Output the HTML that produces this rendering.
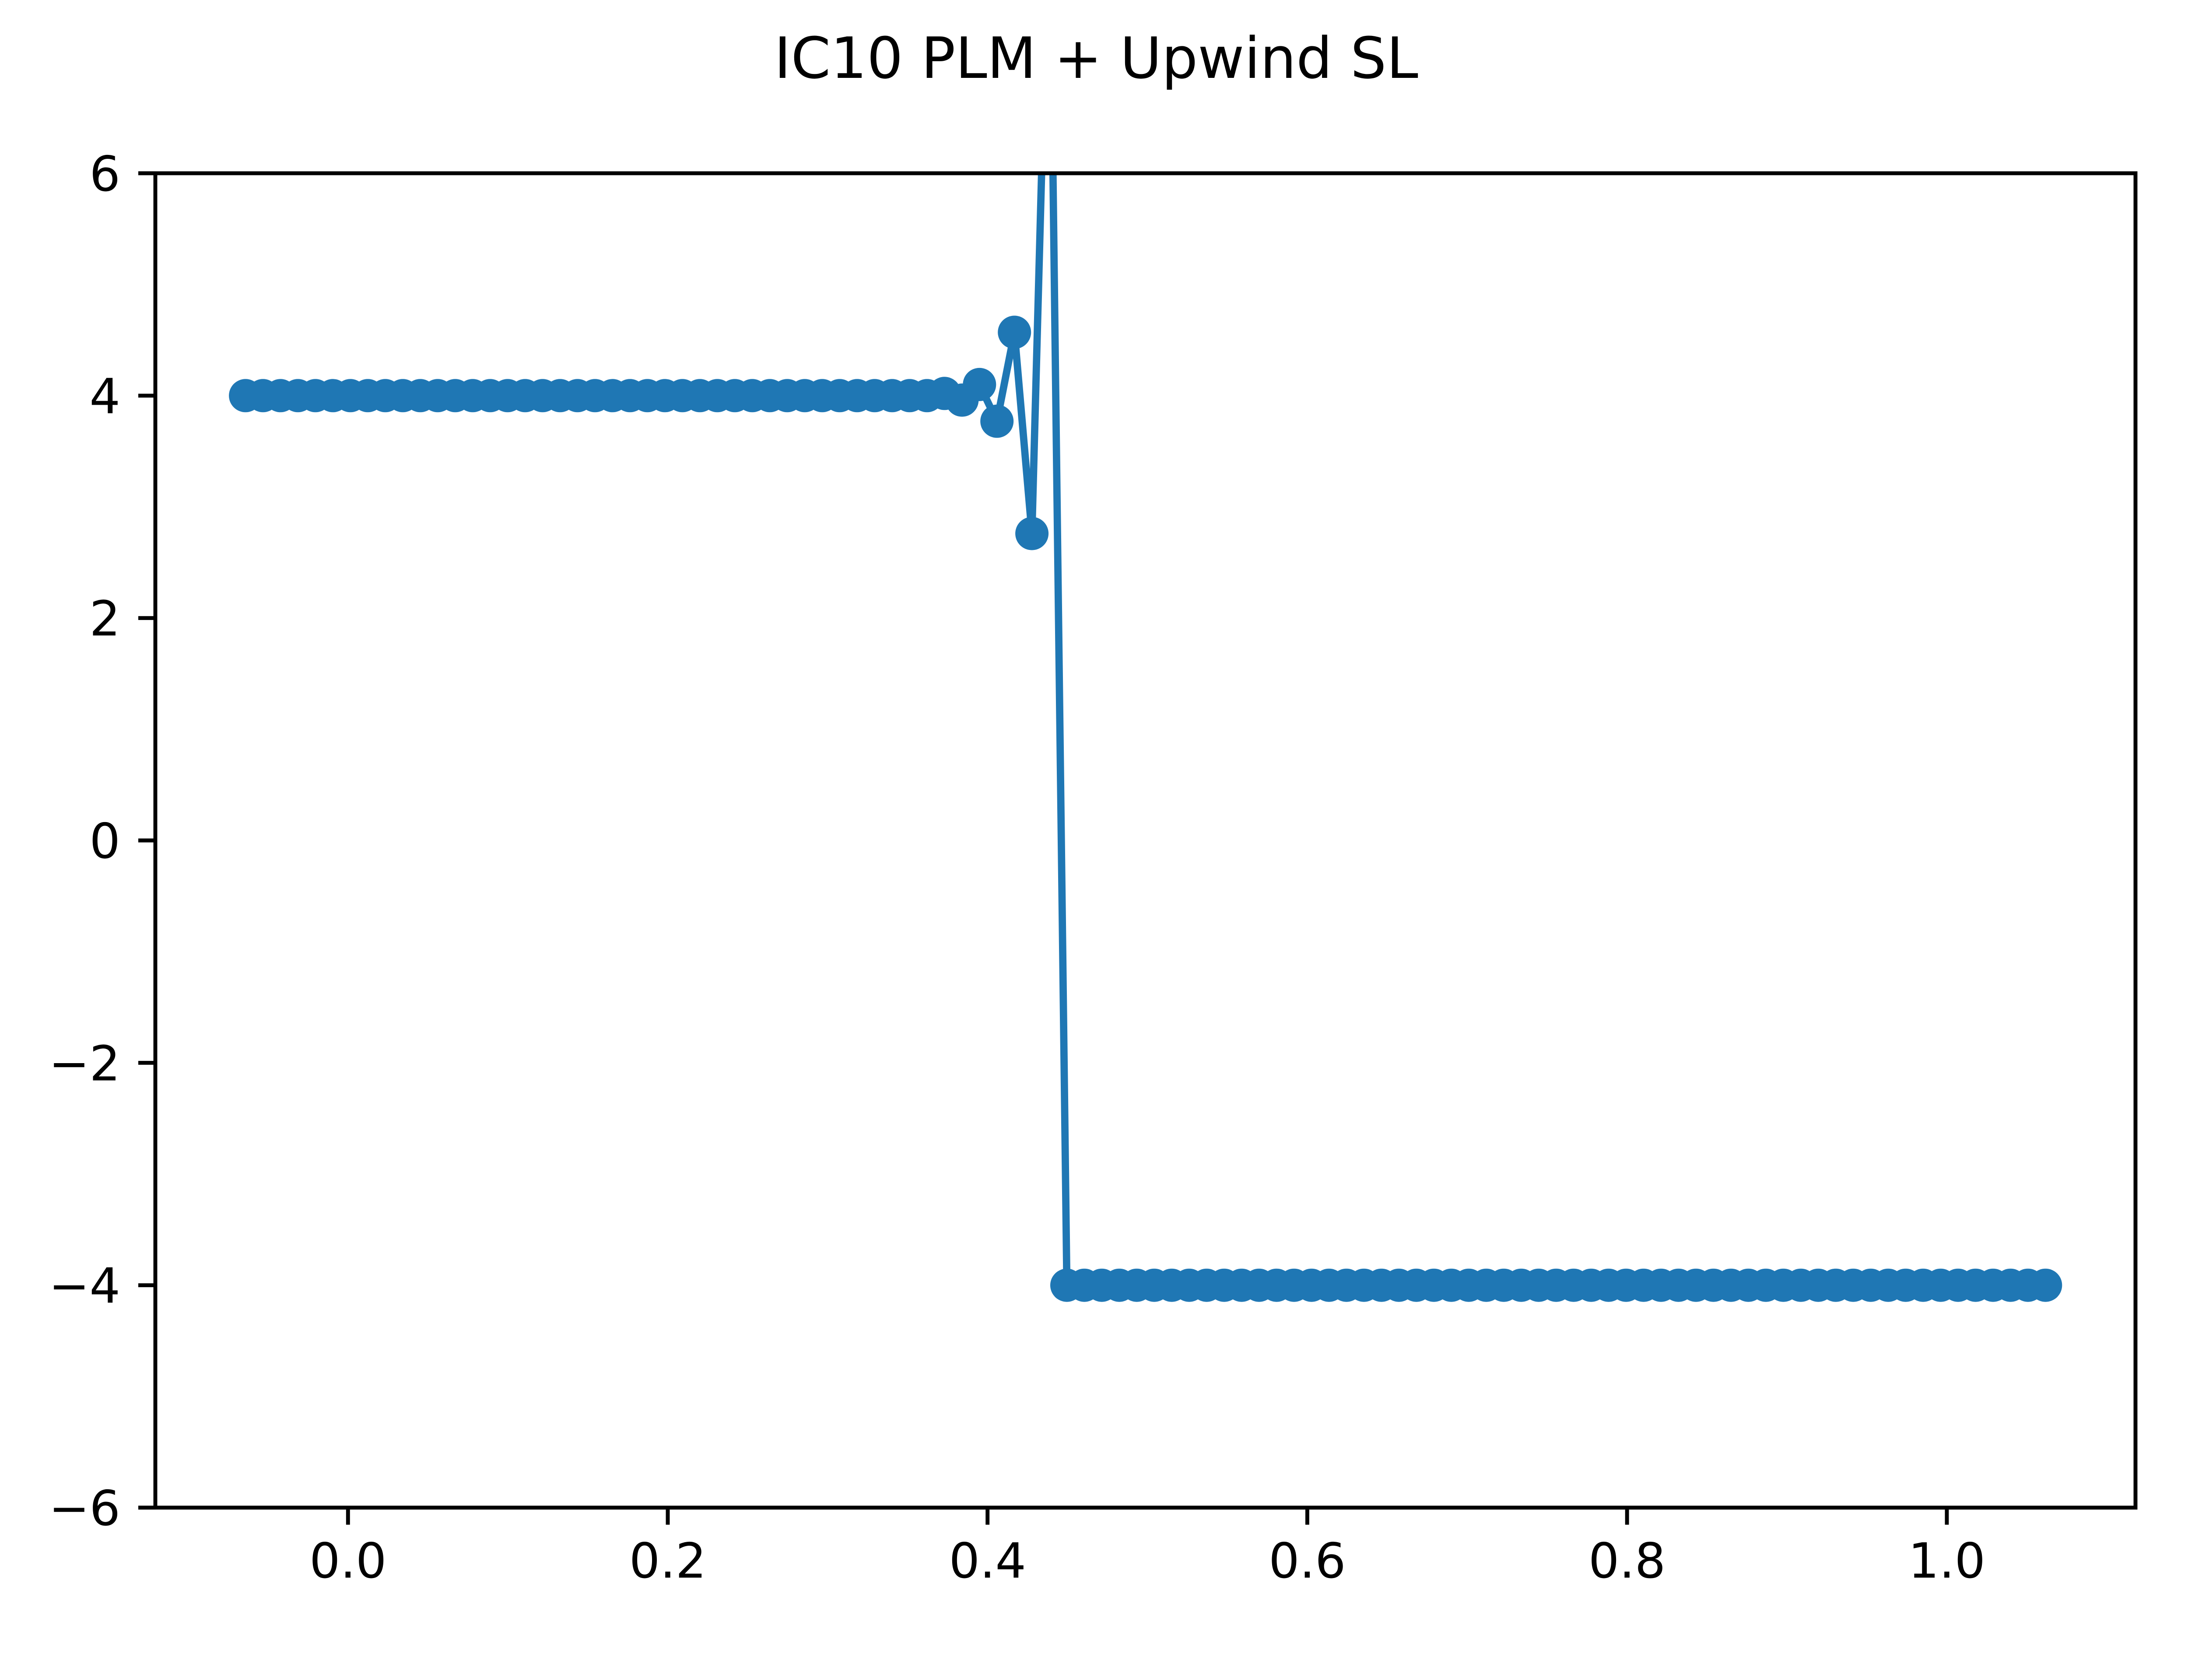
<!DOCTYPE html>
<html><head><meta charset="utf-8"><style>
html,body{margin:0;padding:0;background:#fff;}
svg{display:block;}
text{font-family:"DejaVu Sans","Liberation Sans",sans-serif;fill:#000;}
</style></head><body>
<svg id="chart" width="5120" height="3840" viewBox="0 0 5120 3840" xmlns="http://www.w3.org/2000/svg">
<rect x="0" y="0" width="5120" height="3840" fill="#fff"/>
<text x="2505" y="178" font-size="130" text-anchor="middle">IC10 PLM + Upwind SL</text>
<defs><clipPath id="plotclip"><rect x="355" y="396" width="4525" height="3050"/></clipPath></defs>
<g id="series" clip-path="url(#plotclip)"></g>
<g id="axes"></g>
</svg>
<script>
const xStart = -0.0641;
const xStep = 0.01093;
const yValues = [
4,4,4,4,4,4,4,4,4,4,
4,4,4,4,4,4,4,4,4,4,
4,4,4,4,4,4,4,4,4,4,
4,4,4,4,4,4,4,4,4,4,
4.02,3.96,4.10,3.77,4.57,2.76,8.6,
-4,-4,-4,-4,-4,-4,-4,-4,-4,-4,
-4,-4,-4,-4,-4,-4,-4,-4,-4,-4,
-4,-4,-4,-4,-4,-4,-4,-4,-4,-4,
-4,-4,-4,-4,-4,-4,-4,-4,-4,-4,
-4,-4,-4,-4,-4,-4,-4,-4,-4,-4,
-4,-4,-4,-4,-4,-4,-4
];
const xTicks = [0.0, 0.2, 0.4, 0.6, 0.8, 1.0];
const xTickLabels = ["0.0","0.2","0.4","0.6","0.8","1.0"];
const yTicks = [-6, -4, -2, 0, 2, 4, 6];
const yTickLabels = ["\u22126","\u22124","\u22122","0","2","4","6"];

const L = 355, R = 4880, T = 396, B = 3446;
const xMin = -0.1205, xMax = 1.118, yMin = -6, yMax = 6;
function sx(v){ return L + (v - xMin) / (xMax - xMin) * (R - L); }
function sy(v){ return B - (v - yMin) / (yMax - yMin) * (B - T); }
const NS = "http://www.w3.org/2000/svg";
function mk(tag, attrs){ const e = document.createElementNS(NS, tag); for (const k in attrs) e.setAttribute(k, attrs[k]); return e; }

const series = document.getElementById('series');
const pts = yValues.map((v, i) => [sx(xStart + i * xStep), sy(v)]);
const line = mk('polyline', {points: pts.map(p => p[0].toFixed(1) + ',' + p[1].toFixed(1)).join(' '), fill: 'none', stroke: '#1f77b4', 'stroke-width': 16.7, 'stroke-linejoin': 'round', 'stroke-linecap': 'square'});


series.appendChild(line);
pts.forEach((p, i) => {
  const c = mk('circle', {cx: p[0].toFixed(1), cy: p[1].toFixed(1), r: 38, fill: '#1f77b4'});
  
  
  series.appendChild(c);
});

const axes = document.getElementById('axes');
const frame = mk('rect', {x: L, y: T, width: R - L, height: B - T, fill: 'none', stroke: '#000', 'stroke-width': 8.9});


axes.appendChild(frame);

xTicks.forEach((v, i) => {
  const x = sx(v);
  const t = mk('line', {x1: x, y1: B, x2: x, y2: B + 39, stroke: '#000', 'stroke-width': 8.9});
  
  
  axes.appendChild(t);
  const lb = mk('text', {x: x, y: B + 78 + 82, 'font-size': 111, 'text-anchor': 'middle'});
  lb.textContent = xTickLabels[i];
  
  
  axes.appendChild(lb);
});
yTicks.forEach((v, i) => {
  const y = sy(v);
  const t = mk('line', {x1: L - 39, y1: y, x2: L, y2: y, stroke: '#000', 'stroke-width': 8.9});
  
  
  axes.appendChild(t);
  const lb = mk('text', {x: L - 80, y: y + 40, 'font-size': 111, 'text-anchor': 'end'});
  lb.textContent = yTickLabels[i];
  
  
  axes.appendChild(lb);
});
</script>
</body></html>
